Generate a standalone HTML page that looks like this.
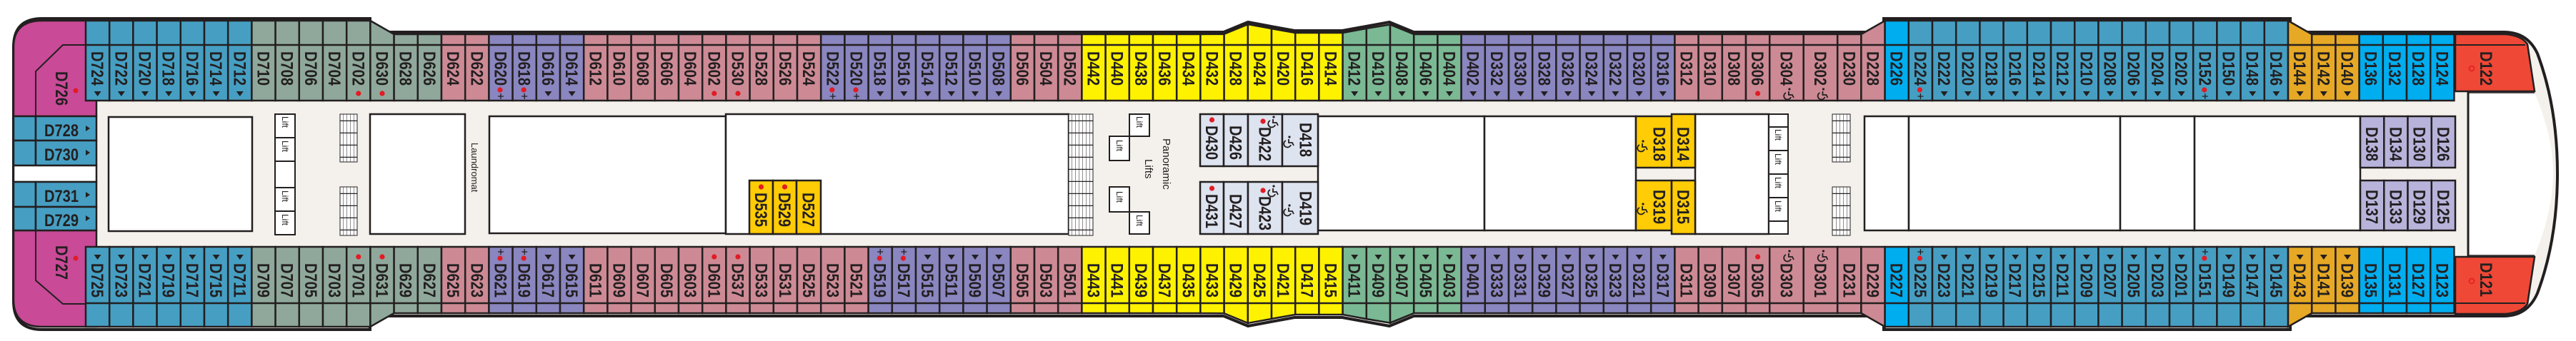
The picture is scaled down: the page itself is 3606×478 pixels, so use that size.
<!DOCTYPE html>
<html><head><meta charset="utf-8">
<style>
html,body{margin:0;padding:0;background:#fff;}
svg{display:block;}
text{font-family:"Liberation Sans",sans-serif;fill:#231f20;}
</style></head>
<body>
<svg id="s" xmlns="http://www.w3.org/2000/svg" width="3606" height="478" viewBox="0 0 3606 478">
<defs>
<pattern id="st" width="5" height="17" patternUnits="userSpaceOnUse">
<rect width="5" height="17" fill="#fff"/><line x1="0" y1="0" x2="0" y2="17" stroke="#231f20" stroke-width="1"/><line x1="0" y1="16.5" x2="5" y2="16.5" stroke="#231f20" stroke-width="1.5"/>
</pattern>
</defs>
<path d="M19,66 Q19,26 59,26 L518,26 L518,45 L1713,45 L1747,31 L1812,43 L1879,43 L1945,31 L1979,45 L2637,45 L2637,26 L3206,26 L3206,45 L3505,45 Q3538,45 3552,75 Q3580,150 3580,243 Q3580,336 3552,411 Q3538,443 3505,443 L3206,443 L3206,462 L2637,462 L2637,443 L1979,443 L1945,457 L1879,445 L1812,445 L1747,457 L1713,443 L518,443 L518,462 L59,462 Q19,462 19,422 Z" fill="#f4f0eb" stroke="#231f20" stroke-width="4"/>
<path d="M3455,130 L3548,130 Q3574,190 3574,243 Q3574,296 3548,358 L3455,358 Z" fill="#fff"/>
<line x1="3455" y1="128" x2="3455" y2="360" stroke="#231f20" stroke-width="3"/>
<line x1="3455" y1="130" x2="3548" y2="130" stroke="#231f20" stroke-width="1.5"/>
<line x1="3455" y1="358" x2="3548" y2="358" stroke="#231f20" stroke-width="1.5"/>
<path d="M3437,48 L3508,48 Q3530,50 3538,62 L3548,128 L3437,128 Z" fill="#ef4836" stroke="#231f20" stroke-width="2.5"/>
<path d="M3437,440 L3508,440 Q3530,438 3538,426 L3548,360 L3437,360 Z" fill="#ef4836" stroke="#231f20" stroke-width="2.5"/>
<line x1="3437" y1="63" x2="3535" y2="63" stroke="#231f20" stroke-width="2"/>
<line x1="3437" y1="425" x2="3535" y2="425" stroke="#231f20" stroke-width="2"/>
<text transform="translate(3472,72) rotate(90)" font-size="24" font-weight="bold" textLength="48" lengthAdjust="spacingAndGlyphs">D122</text>
<circle cx="3460" cy="96" r="3.5" fill="none" stroke="#e31b23" stroke-width="1.5"/>
<text transform="translate(3472,368) rotate(90)" font-size="24" font-weight="bold" textLength="48" lengthAdjust="spacingAndGlyphs">D121</text>
<circle cx="3460" cy="394" r="3.5" fill="none" stroke="#e31b23" stroke-width="1.5"/>

<path d="M19,66 Q19,29 59,29 L135,29 L135,163 L19,163 Z" fill="#c94a97" stroke="#231f20" stroke-width="2.5"/>
<path d="M19,323 L135,323 L135,458 L59,458 Q19,458 19,420 Z" fill="#c94a97" stroke="#231f20" stroke-width="2.5"/>
<polyline points="50,163 50,100 88,63 120,63" fill="none" stroke="#231f20" stroke-width="2"/>
<polyline points="50,323 50,393 88,426 120,426" fill="none" stroke="#231f20" stroke-width="2"/>
<text transform="translate(78,100) rotate(90)" font-size="24" font-weight="bold" textLength="48" lengthAdjust="spacingAndGlyphs">D726</text>
<circle cx="106" cy="127" r="3.5" fill="#e31b23"/>
<text transform="translate(78,344) rotate(90)" font-size="24" font-weight="bold" textLength="48" lengthAdjust="spacingAndGlyphs">D727</text>
<circle cx="106" cy="362" r="3.5" fill="#e31b23"/>
<g stroke="#231f20" stroke-width="2.5" fill="#469fc3">
<rect x="19" y="163" width="31" height="34"/><rect x="50" y="163" width="85" height="34"/>
<rect x="19" y="197" width="31" height="35"/><rect x="50" y="197" width="85" height="35"/>
<rect x="19" y="232" width="116" height="23" fill="#fff"/>
<rect x="19" y="255" width="31" height="35"/><rect x="50" y="255" width="85" height="35"/>
<rect x="19" y="290" width="31" height="33"/><rect x="50" y="290" width="85" height="33"/>
</g>
<g font-size="24" font-weight="bold">
<text x="62" y="191" textLength="48" lengthAdjust="spacingAndGlyphs">D728</text>
<text x="62" y="225" textLength="48" lengthAdjust="spacingAndGlyphs">D730</text>
<text x="62" y="283" textLength="48" lengthAdjust="spacingAndGlyphs">D731</text>
<text x="62" y="317" textLength="48" lengthAdjust="spacingAndGlyphs">D729</text>
</g>
<g fill="#231f20">
<polygon points="120,176 126,180 120,184"/><polygon points="120,210 126,214 120,218"/>
<polygon points="120,269 126,273 120,277"/><polygon points="120,302 126,306 120,310"/>
</g>

<g fill="#fff" stroke="#231f20" stroke-width="2.5">
<rect x="152" y="164" width="201" height="160"/>
<rect x="518" y="160" width="133" height="168"/>
<rect x="685" y="163" width="331" height="164"/>
<rect x="1016" y="160" width="480" height="168"/>
<rect x="1845" y="163" width="233" height="160"/>
<rect x="2078" y="163" width="212" height="160"/>
<rect x="2373" y="160" width="103" height="168"/>
<rect x="2610" y="163" width="62" height="160"/>
<rect x="2672" y="163" width="296" height="160"/>
<rect x="2968" y="163" width="104" height="160"/>
<rect x="3072" y="163" width="232" height="160"/>
</g>
<g fill="#fff" stroke="#231f20" stroke-width="2">
<rect x="385" y="160" width="28" height="33"/><rect x="385" y="193" width="28" height="33"/>
<rect x="385" y="226" width="28" height="37"/>
<rect x="385" y="263" width="28" height="33"/><rect x="385" y="296" width="28" height="33"/>
<rect x="1581" y="160" width="28" height="31"/><rect x="1553" y="191" width="28" height="34"/>
<rect x="1553" y="262" width="28" height="35"/><rect x="1581" y="297" width="28" height="31"/>
<rect x="2476" y="160" width="27" height="18"/>
<rect x="2476" y="178" width="27" height="33"/><rect x="2476" y="211" width="27" height="33"/>
<rect x="2476" y="244" width="27" height="33"/><rect x="2476" y="277" width="27" height="33"/>
<rect x="2476" y="310" width="27" height="18"/>
</g>
<g stroke="#231f20" stroke-width="1">
<rect x="476" y="160" width="24" height="67" fill="url(#st)"/>
<rect x="476" y="262" width="24" height="68" fill="url(#st)"/>
<rect x="1496" y="160" width="34" height="170" fill="url(#st)"/>
<rect x="2565" y="160" width="25" height="67" fill="url(#st)"/>
<rect x="2565" y="262" width="25" height="68" fill="url(#st)"/>
</g>
<g font-size="12" fill="#1f2a5a">
<text transform="translate(395,163) rotate(90)">Lift</text>
<text transform="translate(395,197) rotate(90)">Lift</text>
<text transform="translate(395,267) rotate(90)">Lift</text>
<text transform="translate(395,300) rotate(90)">Lift</text>
<text transform="translate(1591,163) rotate(90)">Lift</text>
<text transform="translate(1563,196) rotate(90)">Lift</text>
<text transform="translate(1563,268) rotate(90)">Lift</text>
<text transform="translate(1591,301) rotate(90)">Lift</text>
<text transform="translate(2485,181) rotate(90)">Lift</text>
<text transform="translate(2485,215) rotate(90)">Lift</text>
<text transform="translate(2485,248) rotate(90)">Lift</text>
<text transform="translate(2485,281) rotate(90)">Lift</text>
<text transform="translate(660,200) rotate(90)" font-size="13">Laundromat</text>
<text transform="translate(1603,223) rotate(90)" font-size="15">Lifts</text>
<text transform="translate(1628,194) rotate(90)" font-size="15">Panoramic</text>
</g>
<g id="cab"></g>
</svg>
<script>
var C={b:"#469fc3",g:"#8fa89b",p:"#cd8a95",u:"#8a86c0",y:"#fff200",e:"#7ab993",c:"#00adef",o:"#e6a825"};
var T=["D724 b t","D722 b t","D720 b t","D718 b t","D716 b t","D714 b t","D712 b t",
"D710 g","D708 g","D706 g","D704 g","D702 g d","D630 g d","D628 g","D626 g",
"D624 p","D622 p","D620 u P","D618 u P","D616 u t","D614 u t",
"D612 p","D610 p","D608 p","D606 p","D604 p","D602 p d","D530 p d","D528 p","D526 p","D524 p",
"D522 u P","D520 u P","D518 u t","D516 u t","D514 u t","D512 u t","D510 u t","D508 u t",
"D506 p","D504 p","D502 p",
"D442 y","D440 y","D438 y","D436 y","D434 y","D432 y","D428 y","D424 y","D420 y","D416 y","D414 y",
"D412 e t","D410 e t","D408 e t","D406 e t","D404 e t",
"D402 u t","D332 u t","D330 u t","D328 u t","D326 u t","D324 u t","D322 u t","D320 u t","D316 u t",
"D312 p","D310 p","D308 p","D306 p d","D304 p w","D302 p w","D230 p","D228 p",
"D226 c","D224 b P","D222 b t","D220 b t","D218 b t","D216 b t","D214 b t","D212 b t","D210 b t","D208 b t","D206 b t","D204 b t","D202 b t","D152 b P","D150 b t","D148 b t","D146 b t",
"D144 o t","D142 o t","D140 o t","D136 c","D132 c","D128 c","D124 c"];
var B=["D725 b t","D723 b t","D721 b t","D719 b t","D717 b t","D715 b t","D711 b t",
"D709 g","D707 g","D705 g","D703 g","D701 g d","D631 g d","D629 g","D627 g",
"D625 p","D623 p","D621 u P","D619 u P","D617 u t","D615 u t",
"D611 p","D609 p","D607 p","D605 p","D603 p","D601 p d","D537 p d","D533 p","D531 p","D525 p","D523 p","D521 p",
"D519 u P","D517 u P","D515 u t","D511 u t","D509 u t","D507 u t",
"D505 p","D503 p","D501 p",
"D443 y","D441 y","D439 y","D437 y","D435 y","D433 y","D429 y","D425 y","D421 y","D417 y","D415 y",
"D411 e t","D409 e t","D407 e t","D405 e t","D403 e t",
"D401 u t","D333 u t","D331 u t","D329 u t","D327 u t","D325 u t","D323 u t","D321 u t","D317 u t",
"D311 p","D309 p","D307 p","D305 p d","D303 p w","D301 p w","D231 p","D229 p",
"D227 c","D225 b P","D223 b t","D221 b t","D219 b t","D217 b t","D215 b t","D211 b t","D209 b t","D207 b t","D205 b t","D203 b t","D201 b t","D151 b P","D149 b t","D147 b t","D145 b t",
"D143 o t","D141 o t","D139 o t","D135 c","D131 c","D127 c","D123 c"];
function topY(x){
 if(x<=518.5)return 29;
 if(x>=2636&&x<=3205)return 29;
 var P=[[1713,48],[1747,34],[1812,46],[1879,46],[1945,34],[1979,48]];
 if(x>1712&&x<1980){for(var i=0;i<P.length-1;i++){if(x>=P[i][0]-1&&x<=P[i+1][0]+1){var t=(x-P[i][0])/(P[i+1][0]-P[i][0]);t=Math.max(0,Math.min(1,t));return P[i][1]+t*(P[i+1][1]-P[i][1]);}}}
 return 48;
}
var h=[];
function lbl(cx,y,t,len){h.push('<text transform="translate('+(cx-8.5)+','+y+') rotate(90)" font-size="24" font-weight="bold" textLength="'+(len||48)+'" lengthAdjust="spacingAndGlyphs">'+t+'</text>');}
function tri(cx,y){h.push('<polygon points="'+(cx-3)+','+(y-5)+' '+(cx+4)+','+y+' '+(cx-3)+','+(y+5)+'" fill="#231f20" transform="rotate(90 '+cx+' '+y+')"/>');}
function dot(cx,y){h.push('<circle cx="'+cx+'" cy="'+y+'" r="3.6" fill="#e31b23"/>');}
function cross(cx,y){h.push('<path d="M'+(cx-4)+','+y+' h8 M'+cx+','+(y-4)+' v8" stroke="#231f20" stroke-width="1.3"/>');}
function wc(cx,y){h.push('<g fill="none" stroke="#231f20" stroke-width="1.8"><circle cx="'+(cx+4)+'" cy="'+(y-6)+'" r="1.6" fill="#231f20" stroke="none"/><path d="M'+(cx+3)+','+(y-3)+' v5 h5 l2,4"/><path d="M'+(cx-1)+','+(y-1)+' a5,5 0 1 0 7,6"/></g>');}
function row(L,top){
 var x=120;
 for(var i=0;i<L.length;i++){
  var a=L[i].split(" "),w=(a[2]=="w")?47.5:33.2,x1=x+w,cx=x+w/2;
  if(top){
   var y0=topY(x),y1=topY(x1);
   h.push('<polygon points="'+x+','+y0+' '+x1+','+y1+' '+x1+',141 '+x+',141" fill="'+C[a[1]]+'" stroke="#231f20" stroke-width="2.5"/>');
   h.push('<line x1="'+x+'" y1="63" x2="'+x1+'" y2="63" stroke="#231f20" stroke-width="2.5"/>');
   lbl(cx,72,a[0]);
   var m=a[2],my=131;
   if(m=="t")tri(cx,my);else if(m=="d")dot(cx,my);else if(m=="P"){dot(cx-1,126);cross(cx,135);}else if(m=="w")wc(cx,my);
  }else{
   var y0=487-topY(x),y1=487-topY(x1);
   h.push('<polygon points="'+x+',346 '+x1+',346 '+x1+','+y1+' '+x+','+y0+'" fill="'+C[a[1]]+'" stroke="#231f20" stroke-width="2.5"/>');
   h.push('<line x1="'+x+'" y1="425" x2="'+x1+'" y2="425" stroke="#231f20" stroke-width="2.5"/>');
   lbl(cx,369,a[0]);
   var m=a[2],my=360;
   if(m=="t")tri(cx,my);else if(m=="d")dot(cx,my);else if(m=="P"){dot(cx-1,362);cross(cx,353);}else if(m=="w")wc(cx,my-2);
  }
  x=x1;
 }
}
row(T,true);row(B,false);
function blk(x0,x1,y0,y1,col,t,ty,mk){
 h.push('<rect x="'+x0+'" y="'+y0+'" width="'+(x1-x0)+'" height="'+(y1-y0)+'" fill="'+col+'" stroke="#231f20" stroke-width="2.5"/>');
 lbl((x0+x1)/2+(mk=="w"?8:0),ty,t);
 if(mk=="d")dot((x0+x1)/2,ty-8);
 if(mk=="dw"){dot((x0+x1)/2-3,ty-8);wc((x0+x1)/2+8,ty-8);}
 if(mk=="w")wc(x0+6,ty+26);
}
var G="#ffcc05",L="#dde3ef",V="#b7b3da";
blk(1049,1082,253,328,G,"D535",270,"d");blk(1082,1115,253,328,G,"D529",270,"d");blk(1115,1149,253,328,G,"D527",270);
blk(1680,1713,160,233,L,"D430",176,"d");blk(1713,1747,160,233,L,"D426",176);blk(1747,1795,160,233,L,"D422",178,"dw");blk(1795,1845,160,233,L,"D418",172,"w");
blk(1680,1713,255,328,L,"D431",272,"d");blk(1713,1747,255,328,L,"D427",272);blk(1747,1795,255,328,L,"D423",275,"dw");blk(1795,1845,255,328,L,"D419",268,"w");
blk(2290,2340,163,235,G,"D318",178,"w");blk(2340,2373,160,235,G,"D314",178);
blk(2290,2340,253,323,G,"D319",266,"w");blk(2340,2373,253,328,G,"D315",266);
var lv=[["D138","D137"],["D134","D133"],["D130","D129"],["D126","D125"]];
for(var k=0;k<4;k++){var a0=3304+k*33.25;blk(a0,a0+33.25,163,235,V,lv[k][0],178);blk(a0,a0+33.25,253,323,V,lv[k][1],266);}
document.getElementById("cab").innerHTML=h.join("");
</script>
</body></html>
